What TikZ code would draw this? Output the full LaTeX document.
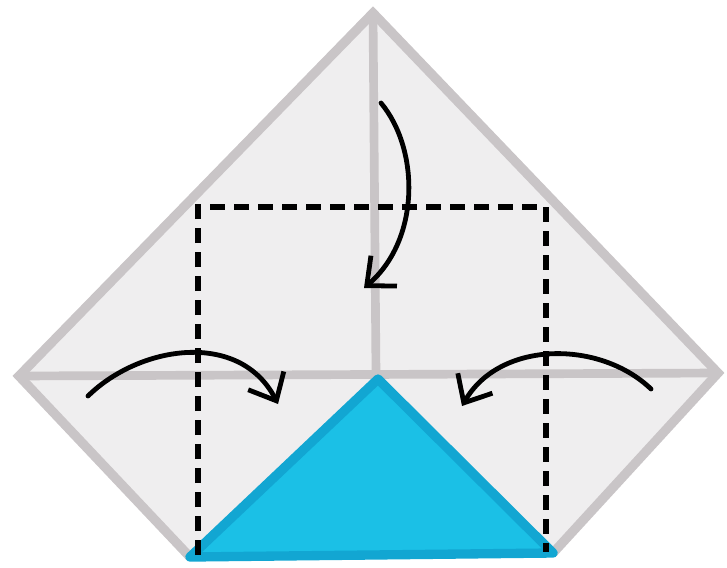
\documentclass[tikz,border=0pt]{standalone}
\usetikzlibrary{arrows.meta}
\definecolor{paper}{HTML}{EFEEEF}
\definecolor{crease}{HTML}{C9C5C7}
\definecolor{bluefill}{HTML}{1BC0E6}
\definecolor{blueedge}{HTML}{12A6D2}
\tikzset{
  fold/.style={draw=crease, line width=7pt, line join=miter},
  creaseline/.style={draw=crease, line width=6.5pt},
  dashline/.style={draw=black, line width=3.8pt, dash pattern=on 11pt off 7pt},
  curvearrow/.style={draw=black, line width=3.6pt, line cap=round, -{Straight Barb[length=17pt,width=30pt,line width=3.6pt]}},
}
\begin{document}
\begin{tikzpicture}[x=0.75pt,y=-0.75pt]
\useasboundingbox (0,0) rectangle (727,567);
\coordinate (T) at (373,13);
\coordinate (L) at (19,376);
\coordinate (R) at (718,373);
\coordinate (BL) at (190,557);
\coordinate (BR) at (553,553);
\coordinate (C) at (376,374);
\coordinate (A) at (378,379);
\fill[paper] (T) -- (R) -- (BR) -- (BL) -- (L) -- cycle;
\draw[creaseline] (T) -- (C);
\draw[creaseline] (L) -- (R);
\draw[fold] (BL) -- (L) -- (T) -- (R) -- (BR);
\filldraw[fill=bluefill, draw=blueedge, line width=7pt, line join=round] (A) -- (BR) -- (BL) -- cycle;
\coordinate (D1) at (198,555);
\coordinate (D2) at (198,207);
\coordinate (D3) at (546,207);
\coordinate (D4) at (546,552);
\draw[dashline] (D1) -- (D2) -- (D3) -- (D4);
\coordinate (a1s) at (381,103);
\coordinate (a1e) at (364,288);
\draw[curvearrow] (a1s) .. controls (420,150) and (420,240) .. (a1e);
\coordinate (a2s) at (88,396);
\coordinate (a2e) at (278,404);
\draw[curvearrow] (a2s) .. controls (140,345) and (240,330) .. (a2e);
\coordinate (a3s) at (651,389);
\coordinate (a3e) at (462,406);
\draw[curvearrow] (a3s) .. controls (600,340) and (500,340) .. (a3e);
\end{tikzpicture}
\end{document}
